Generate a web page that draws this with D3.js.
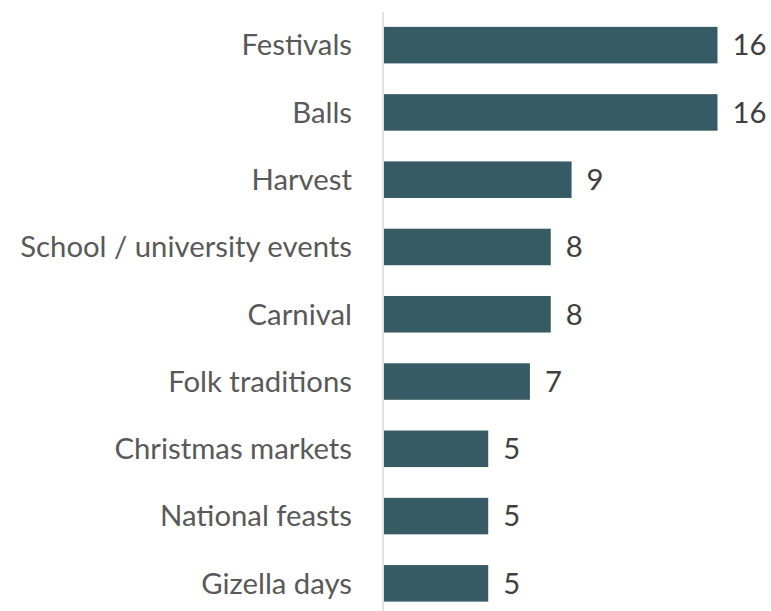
<!DOCTYPE html>
<html>
<head>
<meta charset="utf-8">
<script src="https://cdn.jsdelivr.net/npm/d3@7"></script>
<style>
  html, body { margin: 0; padding: 0; background: #fff; }
  svg { display: block; }
</style>
</head>
<body>
<svg id="chart" width="771" height="611"></svg>
<script>
// Event categories and counts
const categories = [
  "Festivals", "Balls", "Harvest", "School / university events", "Carnival",
  "Folk traditions", "Christmas markets", "National feasts", "Gizella days"
];
const counts = [16, 16, 9, 8, 8, 7, 5, 5, 5];

const width = 771, height = 611;
const axisX = 383;
const svg = d3.select("#chart");
const fontFamily = "Lato, 'Open Sans', sans-serif";

const x = d3.scaleLinear().domain([0, 16]).range([axisX + 1, 717.5]);
const y = d3.scaleBand().domain(categories).range([11.5, 617]).paddingInner(0.457).paddingOuter(0.2285);

// bars
svg.append("g").selectAll("rect")
  .data(categories)
  .join("rect")
  .attr("x", x(0))
  .attr("y", d => y(d))
  .attr("width", (d, i) => x(counts[i]) - x(0))
  .attr("height", y.bandwidth())
  .attr("fill", "#365b65");

// category axis line
svg.append("line")
  .attr("x1", axisX).attr("x2", axisX)
  .attr("y1", 12).attr("y2", height)
  .attr("stroke", "#d9d9d9").attr("stroke-width", 1.5);

// category labels
const labels = svg.append("g").selectAll("text")
  .data(categories)
  .join("text")
  .attr("x", 352)
  .attr("y", d => y(d) + y.bandwidth() / 2)
  .attr("dy", "0.35em")
  .attr("text-anchor", "end")
  .attr("font-family", fontFamily)
  .attr("font-size", 26)
  .attr("fill", "#595959")
  .text(d => d);

// size labels so the longest one spans the left margin
let widest = 0;
labels.each(function () { widest = Math.max(widest, this.getComputedTextLength()); });
const fs = 26 * 332 / widest;
labels.attr("font-size", fs);

// value labels
svg.append("g").selectAll("text")
  .data(categories)
  .join("text")
  .attr("x", (d, i) => x(counts[i]) + 15)
  .attr("y", d => y(d) + y.bandwidth() / 2)
  .attr("dy", "0.35em")
  .attr("font-family", fontFamily)
  .attr("font-size", fs)
  .attr("fill", "#404040")
  .text((d, i) => counts[i]);
</script>
</body>
</html>
